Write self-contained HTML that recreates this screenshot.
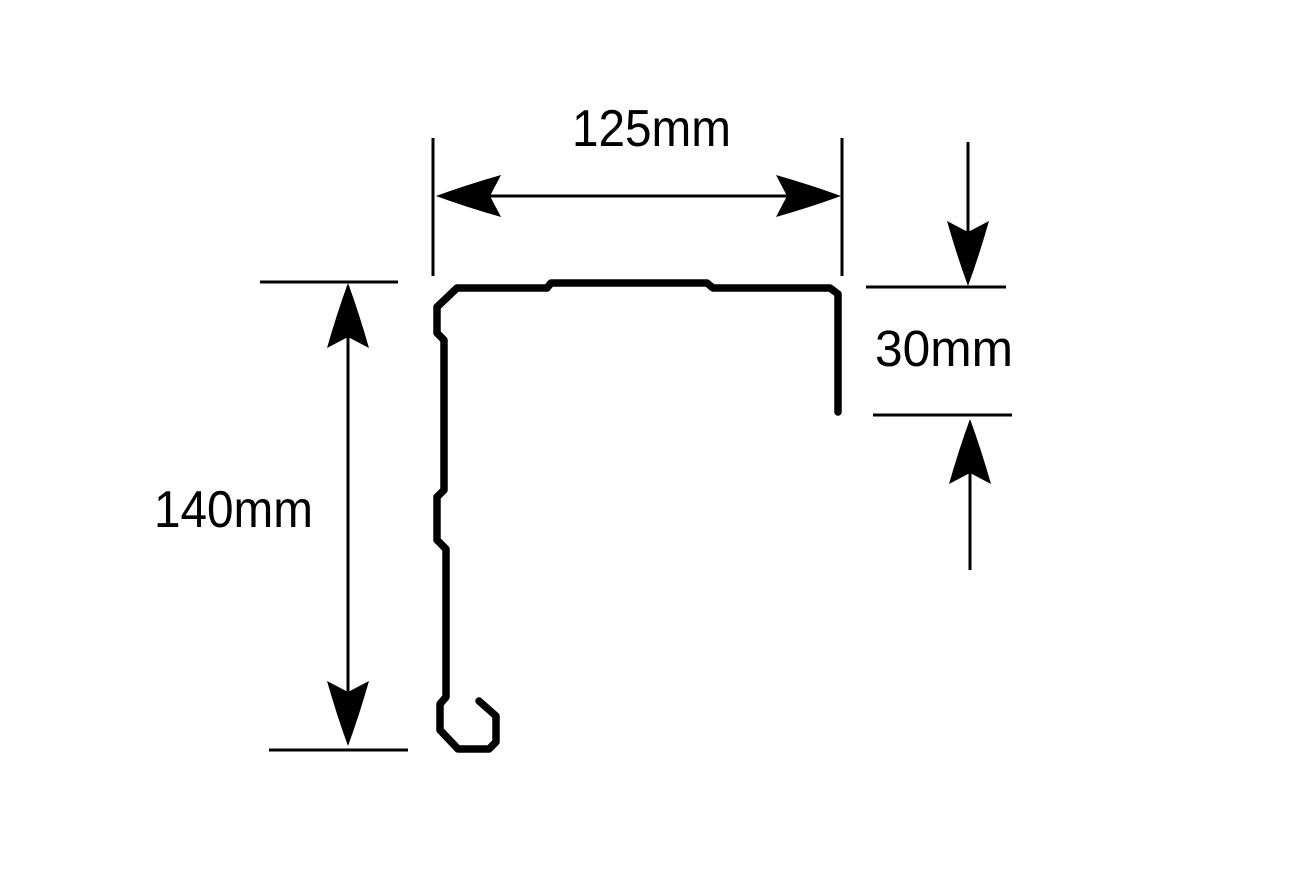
<!DOCTYPE html>
<html><head><meta charset="utf-8"><style>
html,body{margin:0;padding:0;background:#fff;}
svg{display:block;}
text{font-family:"Liberation Sans",sans-serif;fill:#000;}
</style></head><body>
<svg width="1312" height="878" viewBox="0 0 1312 878" xmlns="http://www.w3.org/2000/svg">
<defs>
<path id="ah" d="M0,0 Q-30,-11 -65,-21 L-54,0 L-65,21 Q-30,11 0,0Z" fill="#000"/>
</defs>
<path d="M838,412 L838,294 L830,288 L713,288 L707,283 L551,283 L547,288 L457,288 L437,307 L437,333 L444,340 L444,490 L437,497 L437,540 L446,549 L446,697 L440,704 L440,730 L458,749 L489,749 L496,742 L496,716 L479,701" fill="none" stroke="#000" stroke-width="7.5" stroke-linejoin="round" stroke-linecap="round"/>
<g stroke="#000" stroke-width="3" fill="none">
<line x1="433" y1="138" x2="433" y2="276"/>
<line x1="842" y1="138" x2="842" y2="276"/>
<line x1="440" y1="196" x2="836" y2="196"/>
<line x1="260" y1="282" x2="398" y2="282"/>
<line x1="269" y1="750" x2="408" y2="750"/>
<line x1="348" y1="286" x2="348" y2="742"/>
<line x1="866" y1="287" x2="1006" y2="287"/>
<line x1="873" y1="415" x2="1012" y2="415"/>
<line x1="968" y1="142" x2="968" y2="280"/>
<line x1="970" y1="425" x2="970" y2="570"/>
</g>
<use href="#ah" transform="translate(841,196)"/>
<use href="#ah" transform="translate(436,196) rotate(180)"/>
<use href="#ah" transform="translate(348,283) rotate(-90)"/>
<use href="#ah" transform="translate(348,746) rotate(90)"/>
<use href="#ah" transform="translate(968,286) rotate(90)"/>
<use href="#ah" transform="translate(970,419) rotate(-90)"/>
<text x="572" y="146" font-size="52" textLength="159" lengthAdjust="spacingAndGlyphs">125mm</text>
<text x="154" y="527" font-size="52" textLength="159" lengthAdjust="spacingAndGlyphs">140mm</text>
<text x="875" y="366" font-size="51" textLength="138" lengthAdjust="spacingAndGlyphs">30mm</text>
</svg>
</body></html>
